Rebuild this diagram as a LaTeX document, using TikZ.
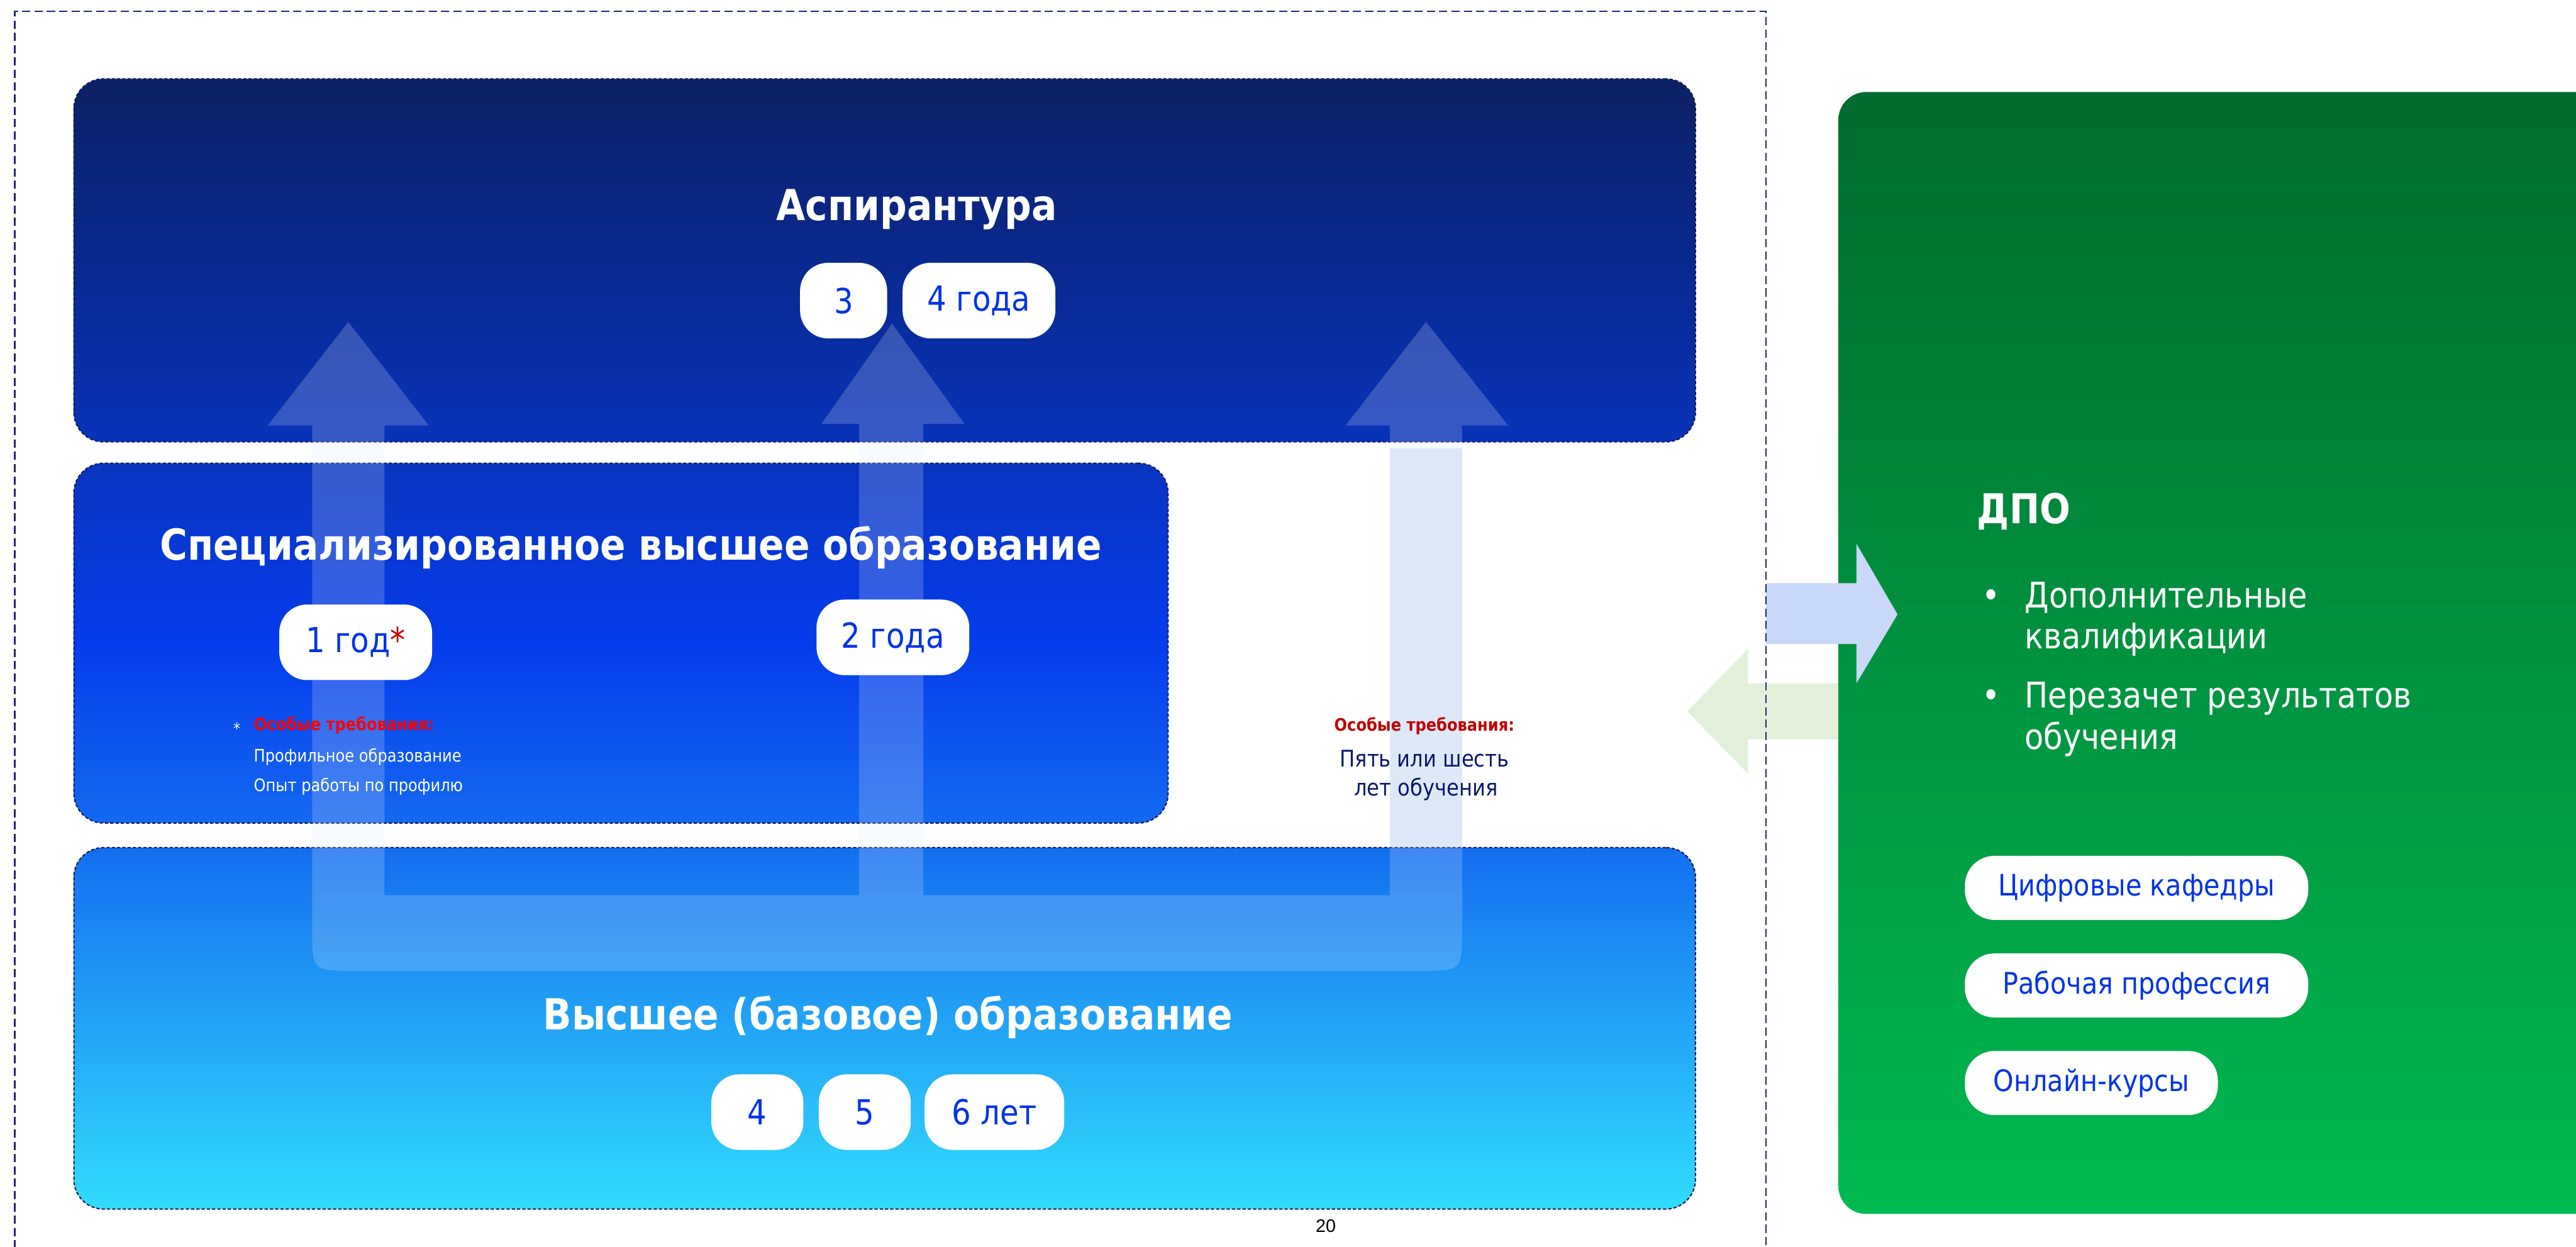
\documentclass[tikz,border=0pt]{standalone}
\usepackage{fontspec}
\setmainfont{DejaVu Sans}[FakeStretch=0.88]
\newfontfamily\numfont{Liberation Sans}
\usepackage{xcolor}
\usetikzlibrary{positioning}
\definecolor{aspTop}{RGB}{12,32,100}
\definecolor{aspBot}{RGB}{8,50,185}
\definecolor{specTop}{RGB}{8,52,190}
\definecolor{specMid}{RGB}{5,60,236}
\definecolor{specBot}{RGB}{20,105,240}
\definecolor{baseTop}{RGB}{20,110,240}
\definecolor{baseBot}{RGB}{50,220,252}
\definecolor{dpoTop}{RGB}{0,107,46}
\definecolor{dpoBot}{RGB}{0,185,80}
\definecolor{boxline}{RGB}{15,28,90}
\definecolor{frameline}{RGB}{30,42,112}
\definecolor{pillblue}{RGB}{0,51,230}
\definecolor{darkred}{RGB}{192,0,0}
\definecolor{navytext}{RGB}{10,25,110}
\definecolor{arrowtint}{RGB}{220,230,250}
\definecolor{shaftblue}{RGB}{223,235,248}
\definecolor{toblue}{RGB}{201,215,248}
\definecolor{fromgreen}{RGB}{226,240,217}
\tikzstyle{levelbox} = [rounded corners=18pt, draw=boxline, dash pattern=on 2pt off 1.2pt, line width=0.8pt, inner sep=0pt, outer sep=0pt]
\tikzstyle{pill} = [fill=white, rounded corners=17pt, minimum height=46pt, inner sep=0pt, text=pillblue, font=\fontsize{21}{25}\selectfont]
\tikzstyle{gpill} = [pill, minimum height=39pt, rounded corners=18pt, font=\fontsize{18}{22}\selectfont]
\tikzstyle{boxtitle} = [anchor=base, text=white, font=\bfseries\fontsize{26}{31}\selectfont]
\tikzstyle{smalltext} = [anchor=base west, text=white, font=\fontsize{10.5}{12}\selectfont]
\tikzstyle{itemtext} = [anchor=base west, text=white, font=\fontsize{21.5}{25}\selectfont]

\begin{document}
\begin{tikzpicture}[x=1pt, y=-1pt]
\useasboundingbox (0,0) rectangle (1568,759);

\fill[fromgreen] (1119,416) -- (1064,416) -- (1064,395) -- (1027,433) -- (1064,471) -- (1064,450) -- (1119,450) -- cycle;
\fill[shaftblue] (846,273) rectangle (890,516);

\node[levelbox, top color=aspTop, bottom color=aspBot, minimum width=987pt, minimum height=221pt] (asp) at (538.5,158.5) {};
\node[levelbox, top color=specTop, bottom color=specBot, middle color=specMid, minimum width=666pt, minimum height=219pt] (spec) at (378,391.5) {};
\node[levelbox, top color=baseTop, bottom color=baseBot, minimum width=987pt, minimum height=220pt] (base) at (538.5,626) {};
\node[levelbox, draw=none, rounded corners=17pt, top color=dpoTop, bottom color=dpoBot, minimum width=521pt, minimum height=683pt] (dpo) at (1379.5,397.5) {};

\fill[arrowtint, fill opacity=0.22] (212,196) -- (261,259) -- (234,259) -- (234,545) -- (523,545) -- (523,258) -- (500,258)
    -- (543,197) -- (587,258) -- (562,258) -- (562,545) -- (846,545) -- (846,259) -- (819,259) -- (868,196) -- (918,259)
    -- (890,259) -- (890,565) .. controls (890,591) .. (864,591) -- (216,591) .. controls (190,591) .. (190,565)
    -- (190,259) -- (163,259) -- cycle;

\node[boxtitle] (aspt) at (558,134) {Аспирантура};
\node[pill, minimum width=53pt] (p3) at (513.5,183) {3};
\node[pill, minimum width=93pt, right=9pt of p3] (p4) {4 года};

\node[boxtitle] (spect) at (384,341) {Специализированное высшее образование};
\node[pill, minimum width=93pt] (p1) at (216.5,391) {1 год\textcolor{darkred}{*}};
\node[pill, minimum width=93pt] (p2) at (543.5,388) {2 года};
\node[smalltext, font=\fontsize{9.5}{10}\selectfont] (star) at (138.5,447) {*};
\node[smalltext, text=red, font=\bfseries\fontsize{10.5}{12}\selectfont] (req1) at (151,444.7) {Особые требования:};
\node[smalltext] (req1a) at (151,463.6) {Профильное образование};
\node[smalltext] (req1b) at (151,481.6) {Опыт работы по профилю};

\node[anchor=base, text=darkred, font=\bfseries\fontsize{10.5}{12}\selectfont] (req2) at (867,445) {Особые требования:};
\node[anchor=base, text=navytext, font=\fontsize{14}{17}\selectfont] (req2a) at (867,467) {Пять или шесть};
\node[anchor=base, text=navytext, font=\fontsize{14}{17}\selectfont] (req2b) at (868,484.5) {лет обучения};

\node[boxtitle] (baset) at (540.5,627) {Высшее (базовое) образование};
\node[pill, minimum width=56pt] (b4) at (461,677) {4};
\node[pill, minimum width=56pt, right=9pt of b4] (b5) {5};
\node[pill, minimum width=85pt, right=8pt of b5] (b6) {6 лет};

\node[anchor=base west, text=white, font=\bfseries\fontsize{25}{30}\selectfont] (dpot) at (1200,318.6) {ДПО};
\node[itemtext] (bul1) at (1203,370) {•};
\node[itemtext] (i1a) at (1229,370) {Дополнительные};
\node[itemtext] (i1b) at (1229,395) {квалификации};
\node[itemtext] (bul2) at (1203,431) {•};
\node[itemtext] (i2a) at (1229,431) {Перезачет результатов};
\node[itemtext] (i2b) at (1229,456) {обучения};

\node[gpill, minimum width=209pt] (g1) at (1300.5,540.5) {Цифровые кафедры};
\node[gpill, minimum width=209pt, below=20pt of g1] (g2) {Рабочая профессия};
\node[gpill, minimum width=154pt, below right=20pt and 0pt of g2.south west] (g3) {Онлайн-курсы};

\fill[toblue] (1075,355) -- (1130,355) -- (1130,331) -- (1155,374) -- (1130,416) -- (1130,392) -- (1075,392) -- cycle;

\draw[frameline, dash pattern=on 5pt off 2.5pt, line width=0.8pt] (9,775) -- (9,7) -- (1075,7) -- (1075,775);
\node[anchor=base, font=\numfont\fontsize{11}{13}\selectfont] (pg) at (807,750) {20};
\end{tikzpicture}
\end{document}
